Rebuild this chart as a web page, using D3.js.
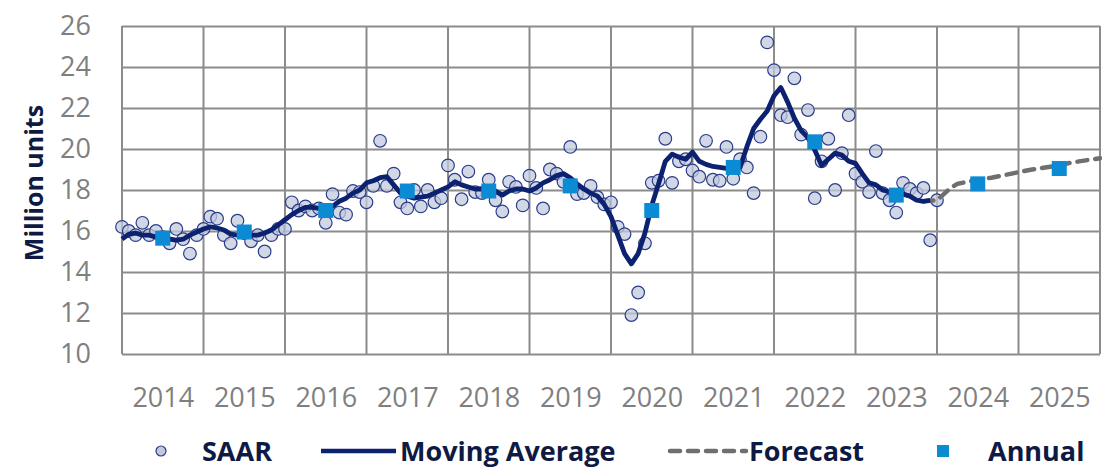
<!DOCTYPE html>
<html>
<head>
<meta charset="utf-8">
<title>Vehicle sales</title>
<script src="https://d3js.org/d3.v7.min.js"></script>
<style>
  body { margin: 0; background: #fff; }
  text { font-family: "Open Sans", "DejaVu Sans", sans-serif; }
</style>
</head>
<body>
<div id="chart"></div>
<script>

// month index 0 = Jan 2014
let years = [2014, 2015, 2016, 2017, 2018, 2019, 2020, 2021, 2022, 2023, 2024, 2025];
let yTicks = [10, 12, 14, 16, 18, 20, 22, 24, 26];

let saar = [
  16.2, 16.0, 15.8, 16.4, 15.8, 16.0, 15.7, 15.4, 16.1, 15.6, 14.9, 15.8,
  16.1, 16.7, 16.6, 15.8, 15.4, 16.5, 15.9, 15.5, 15.8, 15.0, 15.8, 16.1,
  16.1, 17.4, 17.0, 17.2, 17.0, 17.1, 16.4, 17.8, 16.9, 16.8, 17.95, 17.9,
  17.4, 18.2, 20.4, 18.2, 18.8, 17.4, 17.1, 18.0, 17.2, 18.0, 17.4, 17.6,
  19.2, 18.5, 17.55, 18.9, 17.9, 17.85, 18.5, 17.5, 16.95, 18.4, 18.15, 17.25,
  18.7, 18.1, 17.1, 19.0, 18.8, 18.4, 20.1, 17.8, 17.85, 18.2, 17.65, 17.3,
  17.4, 16.2, 15.85, 11.9, 13.0, 15.4, 18.35, 18.45, 20.5, 18.35, 19.4, 19.5,
  18.95, 18.65, 20.4, 18.5, 18.45, 20.1, 18.55, 19.5, 19.1, 17.85, 20.6, 25.2,
  23.85, 21.65, 21.55, 23.45, 20.7, 21.9, 17.6, 19.4, 20.5, 18.0, 19.8, 21.65,
  18.8, 18.4, 17.9, 19.9, 17.85, 17.5, 16.9, 18.35, 18.05, 17.85, 18.1, 15.55,
  17.5
];

let movingAvg = [
  15.6, 15.85, 15.9, 15.8, 15.8, 15.7, 15.65, 15.6, 15.55, 15.6, 15.8, 15.95,
  16.1, 16.2, 16.15, 16.05, 15.85, 15.8, 15.8, 15.8, 15.8, 15.9, 16.05, 16.3,
  16.55, 16.8, 17.0, 17.15, 17.15, 17.1, 17.1, 17.2, 17.45, 17.6, 17.85, 18.0,
  18.35, 18.45, 18.6, 18.65, 18.25, 17.85, 17.7, 17.6, 17.65, 17.7, 17.85, 18.0,
  18.15, 18.4, 18.25, 18.15, 18.05, 18.05, 18.05, 17.95, 17.75, 17.95, 18.05, 18.05,
  17.95, 18.1, 18.35, 18.5, 18.7, 18.8, 18.6, 18.3, 18.05, 17.85, 17.7, 17.3,
  16.7, 15.8, 14.9, 14.4, 14.9, 15.9, 17.25, 18.3, 19.4, 19.75, 19.6, 19.5,
  19.85, 19.4, 19.25, 19.15, 19.1, 19.05, 19.1, 19.1, 20.1, 21.0, 21.45, 21.85,
  22.6, 23.0, 22.3, 21.5, 20.9, 20.55, 19.95, 19.2, 19.5, 19.8, 19.7, 19.4,
  19.3, 18.8, 18.35, 18.25, 18.0, 17.9, 17.8, 17.8, 17.7, 17.5, 17.45, 17.5
];

let forecastMonths = [118, 120, 122, 123, 126, 128, 131, 134, 137, 140, 144];
let forecastValues = [17.45, 17.5, 18.1, 18.3, 18.5, 18.6, 18.8, 19.0, 19.15, 19.35, 19.55];

let annual = [15.65, 15.95, 17.0, 17.95, 17.95, 18.2, 17.0, 19.1, 20.35, 17.75, 18.3, 19.05];

let legendLabels = ["SAAR", "Moving Average", "Forecast", "Annual"];

let W = 1102, H = 469;
let margin = {top: 26, right: 2, bottom: 115, left: 122};

let svg = d3.select("#chart").append("svg")
  .attr("width", W).attr("height", H);

let x = d3.scaleLinear().domain([0, 144]).range([margin.left, W - margin.right]);
let y = d3.scaleLinear().domain([10, 26]).range([H - margin.bottom, margin.top]);

let gridColor = "#8c8c8c";

// horizontal grid + y labels
let yAxis = svg.append("g")
  .attr("transform", "translate(" + margin.left + ",0)")
  .call(d3.axisLeft(y).tickValues(yTicks).tickSize(-(x(144) - x(0))).tickPadding(31));
yAxis.select(".domain").remove();
yAxis.selectAll("line").attr("stroke", gridColor).attr("stroke-width", 2);
yAxis.selectAll("text").attr("fill", "#7f7f7f").attr("font-size", "27px");

// vertical grid at year boundaries
svg.append("g").selectAll("line")
  .data(d3.range(0, 145, 12))
  .enter().append("line")
  .attr("x1", d => x(d)).attr("x2", d => x(d))
  .attr("y1", y(26)).attr("y2", y(10))
  .attr("stroke", gridColor).attr("stroke-width", 2);

// year labels
let xAxis = svg.append("g")
  .attr("transform", "translate(0," + y(10) + ")")
  .call(d3.axisBottom(x)
    .tickValues(years.map((d, i) => i * 12 + 6))
    .tickFormat((d, i) => years[i])
    .tickSize(0).tickPadding(34));
xAxis.select(".domain").remove();
xAxis.selectAll("text").attr("fill", "#7f7f7f").attr("font-size", "27px");

// y title
svg.append("text")
  .attr("transform", "translate(43," + 183 + ") rotate(-90)")
  .attr("text-anchor", "middle")
  .attr("font-size", "25px").attr("font-weight", "bold")
  .attr("fill", "#0e1a44")
  .text("Million units");

let circleFill = "#c3c9dd", circleStroke = "#2a3d8a";
let maColor = "#0c2170", fcColor = "#6f6f6f", annColor = "#0b8bd3";

// SAAR points
svg.append("g").selectAll("circle")
  .data(saar)
  .enter().append("circle")
  .attr("cx", (d, i) => x(i))
  .attr("cy", d => y(d))
  .attr("r", 6.3)
  .attr("fill", circleFill).attr("fill-opacity", 0.75)
  .attr("stroke", circleStroke).attr("stroke-width", 1.2);

// forecast
let fcLine = d3.line()
  .x((d, i) => x(forecastMonths[i]))
  .y(d => y(d));
svg.append("path")
  .datum(forecastValues)
  .attr("d", fcLine)
  .attr("fill", "none").attr("stroke", fcColor)
  .attr("stroke-width", 4.5).attr("stroke-dasharray", "10,8")
  .attr("stroke-linecap", "round");

// moving average
let maLine = d3.line()
  .x((d, i) => x(i))
  .y(d => y(d));
svg.append("path")
  .datum(movingAvg)
  .attr("d", maLine)
  .attr("fill", "none").attr("stroke", maColor)
  .attr("stroke-width", 4.8).attr("stroke-linejoin", "round");

// annual squares
let sq = 15;
svg.append("g").selectAll("rect")
  .data(annual)
  .enter().append("rect")
  .attr("x", (d, i) => x(i * 12 + 6) - sq / 2)
  .attr("y", d => y(d) - sq / 2)
  .attr("width", sq).attr("height", sq)
  .attr("fill", annColor);

// legend
let ly = 451;
let leg = svg.append("g");
let textColor = "#0e1a44";
leg.append("circle").attr("cx", 161).attr("cy", ly).attr("r", 5)
  .attr("fill", circleFill).attr("stroke", circleStroke).attr("stroke-width", 1.2);
leg.append("line").attr("x1", 321).attr("x2", 396).attr("y1", ly).attr("y2", ly)
  .attr("stroke", maColor).attr("stroke-width", 4.5);
leg.append("line").attr("x1", 670).attr("x2", 746).attr("y1", ly).attr("y2", ly)
  .attr("stroke", fcColor).attr("stroke-width", 4.5)
  .attr("stroke-dasharray", "10,8").attr("stroke-linecap", "round");
leg.append("rect").attr("x", 937).attr("y", ly - 6).attr("width", 12).attr("height", 12)
  .attr("fill", annColor);

let legX = [202, 400, 749, 988];
leg.selectAll("text.lg")
  .data(legendLabels)
  .enter().append("text")
  .attr("class", "lg")
  .attr("x", (d, i) => legX[i])
  .attr("y", ly + 10)
  .attr("font-size", "27px").attr("font-weight", "bold")
  .attr("fill", textColor)
  .text(d => d);

</script>
</body>
</html>
